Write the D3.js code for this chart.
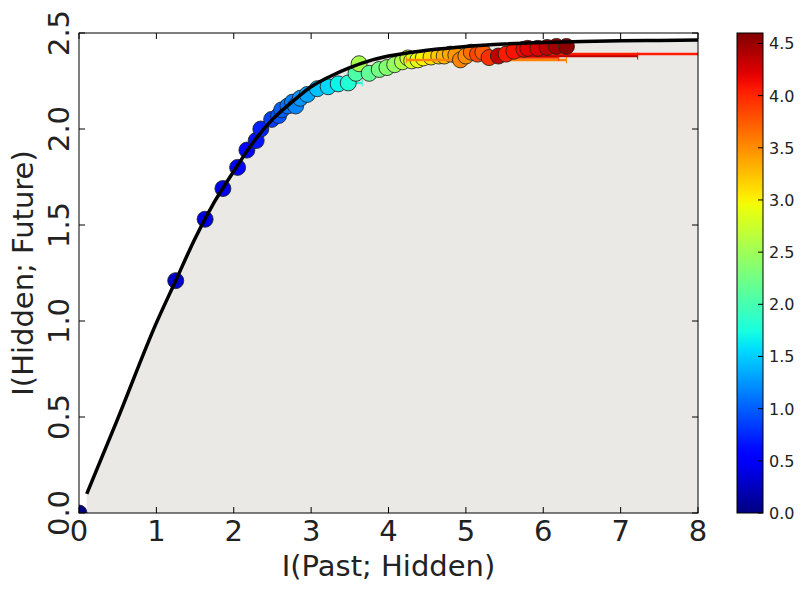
<!DOCTYPE html>
<html><head><meta charset="utf-8">
<script src="https://cdn.jsdelivr.net/npm/d3@7"></script>
<style>body{margin:0;background:#fff}svg{display:block}text{font-family:"DejaVu Sans",sans-serif}</style>
</head><body>
<svg id="chart" width="803" height="591"></svg>
<script>
// IB bound curve
const curveX = [0.1, 0.5, 1.0, 1.25, 1.5, 1.75, 2.0, 2.25, 2.5, 2.75, 3.0, 3.25, 3.5, 3.75, 4.0, 4.5, 5.0, 5.5, 6.0, 6.5, 7.0, 7.5, 8.0];
const curveY = [0.1, 0.49, 0.99, 1.21, 1.43, 1.62, 1.78, 1.93, 2.05, 2.14, 2.22, 2.275, 2.32, 2.355, 2.38, 2.41, 2.43, 2.443, 2.451, 2.456, 2.459, 2.461, 2.463];
// estimated points: I(Past;Hidden), I(Hidden;Future), beta, x error low/high
const pastHidden = [0, 1.25, 1.63, 1.86, 2.05, 2.17, 2.29, 2.35, 2.49, 2.58, 2.62, 2.70, 2.76, 2.80, 2.86, 2.95, 3.08, 3.22, 3.35, 3.48, 3.58, 3.62, 3.75, 3.88, 3.98, 4.08, 4.18, 4.25, 4.30, 4.38, 4.45, 4.55, 4.65, 4.72, 4.80, 4.87, 4.93, 5.00, 5.07, 5.15, 5.22, 5.30, 5.42, 5.52, 5.62, 5.75, 5.80, 5.93, 6.05, 6.17, 6.30];
const hiddenFuture = [0, 1.21, 1.53, 1.69, 1.80, 1.89, 1.94, 2.00, 2.05, 2.07, 2.10, 2.12, 2.14, 2.12, 2.16, 2.18, 2.21, 2.22, 2.235, 2.24, 2.29, 2.34, 2.29, 2.31, 2.32, 2.335, 2.35, 2.37, 2.355, 2.36, 2.37, 2.375, 2.38, 2.38, 2.39, 2.385, 2.36, 2.38, 2.40, 2.39, 2.40, 2.372, 2.38, 2.39, 2.405, 2.415, 2.42, 2.42, 2.425, 2.43, 2.43];
const beta = [0.0, 0.32, 0.40, 0.45, 0.52, 0.58, 0.66, 0.72, 0.85, 0.95, 1.0, 1.08, 1.14, 1.18, 1.25, 1.32, 1.45, 1.55, 1.68, 1.80, 2.05, 2.55, 2.15, 2.25, 2.35, 2.45, 2.6, 2.7, 2.8, 2.9, 3.0, 3.1, 3.2, 3.3, 3.35, 3.45, 3.55, 3.5, 3.65, 3.85, 3.75, 3.95, 4.35, 4.05, 4.1, 4.15, 4.2, 4.25, 4.35, 4.45, 4.55];
const errLow = [0,0,0,0,0,0,0,0,0,0,0,0,0,0,0,0,0,0,0,0,0,0,0,0,0,0,0,0,0.1,0,0,0,0,0,0,0,0.7,0,0.1,0,0,0.1,0,0,0,0,0,0,0,0,0];
const errHigh = [0,0,0,0,0,0,0,0,0,0,0,0,0,0,0,0,0,0,0,0.18,0,0,0,0,0,0,0,0,0.45,0,0,0,0,0,0,0,1.37,0,0.5,0,0,0.9,1.8,2.8,0,0,0,0,0,0,0];
const xTicks = [0,1,2,3,4,5,6,7,8];
const yTicks = [0.0,0.5,1.0,1.5,2.0,2.5];
const cbTicks = [0.0,0.5,1.0,1.5,2.0,2.5,3.0,3.5,4.0,4.5];
const betaMax = 4.6;

function jet(t){
  t=Math.max(0,Math.min(1,t));
  const seg=(pts)=>{for(let i=1;i<pts.length;i++){if(t<=pts[i][0]){const a=pts[i-1],b=pts[i];return a[1]+(b[1]-a[1])*(t-a[0])/(b[0]-a[0]);}}return pts[pts.length-1][1];};
  const r=seg([[0,0],[0.35,0],[0.66,1],[0.89,1],[1,0.5]]);
  const g=seg([[0,0],[0.125,0],[0.375,1],[0.64,1],[0.91,0],[1,0]]);
  const b=seg([[0,0.5],[0.11,1],[0.34,1],[0.65,0],[1,0]]);
  return d3.rgb(r*255,g*255,b*255).formatHex();
}
const color = v => jet(v/betaMax);

const svg=d3.select("#chart");
const L=79,R=698,T=33,B=513;
const x=d3.scaleLinear().domain([0,8]).range([L,R]);
const y=d3.scaleLinear().domain([0,2.5]).range([B,T]);

svg.append("clipPath").attr("id","clip").append("rect").attr("x",L).attr("y",T).attr("width",R-L).attr("height",B-T);
const g=svg.append("g").attr("clip-path","url(#clip)");

const cdata=curveX.map((v,i)=>[v,curveY[i]]);
g.append("path").datum(cdata).attr("fill","#ebe9e6")
  .attr("d",d3.area().x(d=>x(d[0])).y0(y(0)).y1(d=>y(d[1])).curve(d3.curveMonotoneX));

pastHidden.forEach((px,i)=>{
  const c=color(beta[i]);
  if(errLow[i]>0||errHigh[i]>0){
    const x0=x(px-errLow[i]),x1=x(px+errHigh[i]),yy=y(hiddenFuture[i]);
    g.append("line").attr("x1",x0).attr("x2",x1).attr("y1",yy).attr("y2",yy).attr("stroke",c).attr("stroke-width",2.5);
    [x0,x1].forEach(xx=>g.append("line").attr("x1",xx).attr("x2",xx).attr("y1",yy-3.5).attr("y2",yy+3.5).attr("stroke",c).attr("stroke-width",1));
  }
  g.append("circle").attr("cx",x(px)).attr("cy",y(hiddenFuture[i])).attr("r",8)
    .attr("fill",c).attr("stroke","#222").attr("stroke-opacity",0.85).attr("stroke-width",1);
});

g.append("path").datum(cdata).attr("fill","none").attr("stroke","#000").attr("stroke-width",3.5)
  .attr("d",d3.line().x(d=>x(d[0])).y(d=>y(d[1])).curve(d3.curveMonotoneX));

// frame and ticks
svg.append("rect").attr("x",L).attr("y",T).attr("width",R-L).attr("height",B-T).attr("fill","none").attr("stroke","#000").attr("stroke-width",1);
const tk=svg.append("g").attr("stroke","#000").attr("stroke-width",1);
xTicks.forEach(v=>{tk.append("line").attr("x1",x(v)).attr("x2",x(v)).attr("y1",B).attr("y2",B-6);
  tk.append("line").attr("x1",x(v)).attr("x2",x(v)).attr("y1",T).attr("y2",T+6);});
yTicks.forEach(v=>{tk.append("line").attr("x1",L).attr("x2",L+6).attr("y1",y(v)).attr("y2",y(v));
  tk.append("line").attr("x1",R).attr("x2",R-6).attr("y1",y(v)).attr("y2",y(v));});
svg.append("g").selectAll("text").data(xTicks).join("text")
  .attr("x",d=>x(d)).attr("y",541).attr("text-anchor","middle").attr("font-size",29).attr("fill","#222").text(d=>d);
svg.append("g").selectAll("text").data(yTicks).join("text")
  .attr("transform",d=>`translate(69,${y(d)}) rotate(-90)`).attr("text-anchor","middle").attr("font-size",29).attr("fill","#222").text(d=>d.toFixed(1));
svg.append("text").attr("x",(L+R)/2).attr("y",576).attr("text-anchor","middle").attr("font-size",29).attr("fill","#222").text("I(Past; Hidden)");
svg.append("text").attr("transform",`translate(33,${(T+B)/2}) rotate(-90)`).attr("text-anchor","middle").attr("font-size",29).attr("fill","#222").text("I(Hidden; Future)");

// colorbar
const cbL=737,cbW=26;
const cy=d3.scaleLinear().domain([0,betaMax]).range([B,T]);
const grad=svg.append("defs").append("linearGradient").attr("id","jet").attr("x1",0).attr("y1",1).attr("x2",0).attr("y2",0);
d3.range(0,1.0001,0.02).forEach(t=>grad.append("stop").attr("offset",t).attr("stop-color",jet(t)));
svg.append("rect").attr("x",cbL).attr("y",T).attr("width",cbW).attr("height",B-T).attr("fill","url(#jet)").attr("stroke","#000").attr("stroke-width",1);
cbTicks.forEach(v=>svg.append("line").attr("x1",cbL+cbW).attr("x2",cbL+cbW-5).attr("y1",cy(v)).attr("y2",cy(v)).attr("stroke","#000"));
svg.append("g").selectAll("text").data(cbTicks).join("text")
  .attr("x",cbL+cbW+6).attr("y",d=>cy(d)+6).attr("font-size",16).attr("fill","#222").text(d=>d.toFixed(1));
</script>
</body></html>
